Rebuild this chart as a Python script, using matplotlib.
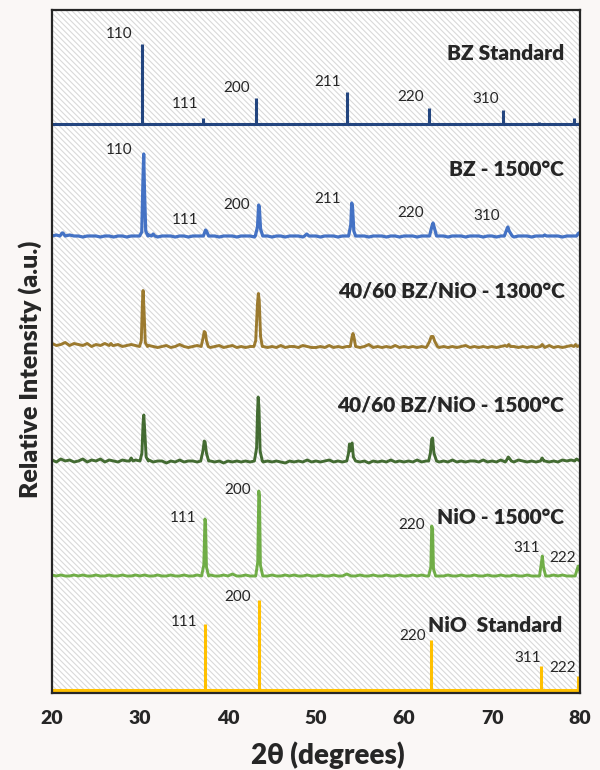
import numpy as np
import matplotlib
matplotlib.use("Agg")
import matplotlib.pyplot as plt
from matplotlib.patches import Rectangle

plt.rcParams['font.family'] = ['Lato', 'Open Sans', 'DejaVu Sans']
plt.rcParams['hatch.linewidth'] = 0.8

# 2-theta grid for the measured backgrounds (0.5 deg step)
GRID = np.round(np.arange(20.0, 80.01, 0.5), 2)

# ---- BZ standard (stick pattern)
bz_std_pos = [21.25, 30.2, 37.2, 43.2, 53.55, 62.8, 71.2, 75.3, 79.3]
bz_std_int = [1.5, 80, 6, 26, 32, 16, 14, 2, 6]

# ---- NiO standard (stick pattern)
nio_std_pos = [37.4, 43.5, 63.1, 75.6, 79.75]
nio_std_int = [66, 90, 50, 24, 14]

bz1500_bg = [1, 2, 1, 1, 2, 1, 1, 0, 1, 1,
             1, 0, 1, 1, 0, 1, 1, 0, 1, 1,
             1, 1, 2, 1, 0, 1, 1, 1, 0, 1,
             1, 0, 1, 1, 1, 0, 1, 1, 0, 1,
             1, 1, 0, 1, 1, 1, 0, 1, 1, 1,
             0, 1, 1, 0, 1, 1, 1, 0, 1, 1,
             1, 0, 1, 1, 1, 0, 1, 1, 1, 0,
             1, 1, 0, 1, 1, 1, 0, 1, 1, 0,
             1, 1, 1, 0, 1, 1, 1, 0, 1, 1,
             0, 1, 1, 1, 0, 1, 1, 1, 0, 1,
             1, 0, 1, 1, 1, 0, 1, 1, 1, 0,
             1, 1, 0, 1, 1, 1, 0, 1, 1, 1,
             1]
bz1500_peaks = [
    ([20.9, 21.15, 21.25, 21.5], [1, 4, 4, 1]),
    ([29.95, 30.2, 30.33, 30.42, 30.5, 30.65, 30.9], [1, 5, 55, 83, 50, 6, 1]),
    ([31.3, 31.5, 31.7], [1, 3, 1]),
    ([37.2, 37.45, 37.55, 37.8], [1, 7, 6, 1]),
    ([43.1, 43.35, 43.48, 43.56, 43.7, 43.95], [1, 10, 32, 30, 8, 1]),
    ([48.7, 48.95, 49.2], [1, 3, 1]),
    ([53.7, 53.95, 54.06, 54.15, 54.3, 54.5], [1, 12, 34, 30, 6, 1]),
    ([62.9, 63.15, 63.3, 63.45, 63.7], [1, 10, 14, 9, 1]),
    ([71.4, 71.7, 71.8, 71.95, 72.3], [1, 8, 10, 6, 1]),
    ([75.8, 76.0, 76.2], [1, 2, 1]),
    ([79.6, 79.85, 80.0], [1, 4, 4]),
]

bzn1300_bg = [5, 3, 4, 6, 3, 5, 4, 3, 5, 2,
              4, 3, 5, 6, 3, 4, 2, 3, 4, 3,
              2, 1, 3, 2, 1, 2, 3, 1, 2, 4,
              2, 1, 2, 3, 1, 2, 1, 2, 3, 1,
              2, 3, 1, 2, 1, 2, 1, 3, 2, 1,
              2, 1, 3, 1, 2, 2, 1, 3, 2, 1,
              1, 2, 1, 3, 1, 2, 1, 2, 1, 2,
              1, 2, 4, 1, 2, 1, 2, 1, 3, 1,
              2, 1, 2, 1, 2, 1, 2, 1, 1, 2,
              1, 2, 1, 2, 3, 1, 2, 1, 2, 1,
              2, 1, 2, 3, 1, 2, 1, 2, 1, 2,
              1, 2, 1, 3, 1, 2, 1, 2, 3, 4,
              3]
bzn1300_peaks = [
    ([26.5, 26.7, 26.9], [3, 5, 3]),
    ([29.95, 30.15, 30.27, 30.35, 30.45, 30.6, 30.85], [2, 8, 45, 58, 40, 6, 2]),
    ([36.95, 37.15, 37.3, 37.42, 37.55, 37.75], [2, 10, 17, 16, 8, 2]),
    ([42.95, 43.15, 43.25, 43.35, 43.45, 43.55, 43.7, 43.9], [2, 8, 26, 45, 55, 48, 12, 2]),
    ([53.9, 54.1, 54.2, 54.3, 54.5], [2, 12, 15, 12, 2]),
    ([62.6, 62.9, 63.1, 63.3, 63.5, 63.8], [2, 7, 12, 12, 7, 2]),
    ([71.7, 71.9, 72.1], [2, 4, 2]),
    ([75.5, 75.7, 75.9], [2, 4, 2]),
    ([79.3, 79.5, 79.7], [2, 4, 2]),
]

bzn1500_bg = [3, 1, 4, 2, 3, 1, 2, 4, 1, 3,
              2, 4, 1, 3, 2, 1, 3, 2, 4, 3,
              2, 1, 3, 1, 2, 2, 0, 2, 1, 3,
              1, 2, 2, 1, 3, 1, 2, 1, 2, 0,
              2, 1, 2, 1, 2, 1, 2, 0, 1, 2,
              1, 2, 1, 0, 2, 1, 2, 1, 3, 1,
              2, 1, 2, 3, 1, 2, 1, 2, 1, 3,
              1, 2, 0, 2, 1, 2, 1, 3, 1, 2,
              1, 2, 1, 3, 1, 2, 1, 2, 1, 2,
              1, 3, 1, 2, 1, 2, 2, 1, 3, 1,
              2, 1, 3, 1, 2, 1, 3, 2, 1, 2,
              1, 3, 2, 1, 2, 1, 3, 2, 3, 4,
              2]
bzn1500_peaks = [
    ([28.8, 29.0, 29.2], [2, 5, 2]),
    ([30.0, 30.22, 30.35, 30.43, 30.52, 30.7, 30.95], [2, 10, 40, 48, 35, 6, 2]),
    ([36.9, 37.15, 37.3, 37.4, 37.55, 37.8], [2, 12, 22, 21, 10, 2]),
    ([43.0, 43.25, 43.35, 43.43, 43.52, 43.65, 43.9], [2, 15, 50, 66, 55, 12, 2]),
    ([53.5, 53.7, 53.8, 53.9, 54.0, 54.1, 54.25, 54.5], [2, 10, 19, 12, 18, 20, 6, 2]),
    ([62.8, 63.0, 63.15, 63.25, 63.4, 63.7], [2, 10, 24, 25, 10, 2]),
    ([71.6, 71.85, 71.95, 72.2], [2, 6, 5, 2]),
    ([75.5, 75.7, 75.9], [2, 5, 2]),
    ([79.4, 79.6, 79.8], [2, 4, 3]),
]

nio1500_bg = [2, 1, 2, 1, 1, 2, 1, 2, 1, 1,
              2, 1, 1, 2, 1, 1, 2, 1, 1, 2,
              1, 2, 1, 1, 2, 1, 1, 2, 1, 1,
              2, 1, 1, 2, 1, 1, 2, 1, 1, 2,
              1, 3, 1, 1, 2, 1, 1, 2, 1, 1,
              2, 1, 1, 2, 1, 2, 1, 1, 2, 1,
              1, 2, 1, 1, 2, 1, 1, 3, 1, 1,
              2, 1, 1, 2, 1, 1, 2, 1, 1, 2,
              1, 1, 2, 1, 2, 1, 1, 2, 1, 1,
              2, 1, 1, 2, 1, 1, 2, 1, 1, 2,
              1, 1, 2, 1, 1, 2, 1, 1, 2, 1,
              1, 2, 1, 1, 2, 1, 2, 1, 1, 2,
              1]
nio1500_peaks = [
    ([37.0, 37.25, 37.38, 37.45, 37.55, 37.8], [1, 12, 58, 55, 10, 1]),
    ([43.15, 43.38, 43.5, 43.58, 43.68, 43.95], [1, 15, 86, 80, 12, 1]),
    ([62.8, 63.05, 63.15, 63.25, 63.35, 63.6], [1, 10, 51, 48, 8, 1]),
    ([75.4, 75.62, 75.72, 75.85, 76.1], [1, 15, 21, 10, 1]),
    ([79.45, 79.68, 79.8, 79.9, 80.0], [1, 8, 11, 9, 5]),
]

# vertical offsets of each pattern in the stack
offsets = {'bzstd': 569, 'bz1500': 456, 'bzn1300': 344.5,
           'bzn1500': 230, 'nio1500': 116, 'niostd': 3}

colors = {'bzstd': '#23457f', 'bz1500': '#4472c4', 'bzn1300': '#9b7a2f',
          'bzn1500': '#436b32', 'nio1500': '#70ad47', 'niostd': '#ffc000'}

widths = {'bzstd': 2.2, 'bz1500': 2.3, 'bzn1300': 2.1,
          'bzn1500': 2.1, 'nio1500': 2.1, 'niostd': 2.2}

titles = [('BZ Standard', 78.18, 639), ('BZ - 1500°C', 78.18, 523),
          ('40/60 BZ/NiO - 1300°C', 78.27, 402), ('40/60 BZ/NiO - 1500°C', 78.18, 288),
          ('NiO - 1500°C', 78.18, 176), ('NiO  Standard', 77.95, 67)]

hkl_labels = [
    ('110', 27.68, 659), ('111', 35.09, 589), ('200', 40.95, 605),
    ('211', 51.37, 611), ('220', 60.76, 596), ('310', 69.30, 594),
    ('110', 27.68, 543), ('111', 35.09, 473), ('200', 41.03, 488),
    ('211', 51.37, 494), ('220', 60.76, 480), ('310', 69.35, 477),
    ('111', 34.91, 175), ('200', 41.06, 203), ('220', 60.87, 168),
    ('311', 73.93, 145), ('222', 78.02, 135),
    ('111', 35.03, 71), ('200', 41.13, 96), ('220', 60.93, 57),
    ('311', 74.02, 35), ('222', 78.02, 25),
]

xticks = [20, 30, 40, 50, 60, 70, 80]


def build(bg, peaks):
    pts = list(zip(GRID, bg))
    for xs, ys in peaks:
        pts = [p for p in pts if p[0] < xs[0] or p[0] > xs[-1]]
        pts += list(zip(xs, ys))
    pts.sort()
    return np.array([p[0] for p in pts]), np.array([p[1] for p in pts], dtype=float)


fig = plt.figure(figsize=(6.0, 7.7), dpi=100, facecolor='#faf7f6')
ax = fig.add_axes([52 / 600, 77 / 770, 528 / 600, 683 / 770])
ax.set_xlim(20, 80)
ax.set_ylim(0, 683)

# hatched background
ax.add_patch(Rectangle((0, 0), 1, 1, transform=ax.transAxes, facecolor='white',
                       edgecolor='#d9d9d9', hatch='\\' * 6, lw=0, zorder=0))

# stick patterns
for key, pos, inten in [('bzstd', bz_std_pos, bz_std_int), ('niostd', nio_std_pos, nio_std_int)]:
    off = offsets[key]
    ax.plot([20, 80], [off, off], color=colors[key], lw=widths[key], solid_capstyle='butt', zorder=3)
    ax.vlines(pos, off, np.array(inten) + off, color=colors[key], lw=widths[key], zorder=3)

# measured patterns
for key, bg, peaks in [('bz1500', bz1500_bg, bz1500_peaks), ('bzn1300', bzn1300_bg, bzn1300_peaks),
                       ('bzn1500', bzn1500_bg, bzn1500_peaks), ('nio1500', nio1500_bg, nio1500_peaks)]:
    x, y = build(bg, peaks)
    ax.plot(x, y + offsets[key], color=colors[key], lw=widths[key], solid_joinstyle='round', zorder=3)

for t, x, y in titles:
    ax.text(x, y, t, ha='right', va='center', fontsize=15, fontweight='heavy', color='#262626', zorder=4)
for t, x, y in hkl_labels:
    ax.text(x, y, t, ha='center', va='center', fontsize=11, color='#262626', zorder=4)

ax.set_yticks([])
ax.set_xticks(xticks, [str(v) for v in xticks], fontsize=14, fontweight='heavy', color='#262626')
ax.tick_params(axis='x', length=0, pad=12)
for s in ax.spines.values():
    s.set_linewidth(1.6)
    s.set_color('#262626')
    s.set_zorder(5)

fig.text(30 / 600, 1 - 369 / 770, 'Relative Intensity (a.u.)', rotation=90, ha='center', va='center',
         fontsize=18, fontweight='heavy', color='#262626')
fig.text(328 / 600, 1 - 755 / 770, '2θ (degrees)', ha='center', va='center',
         fontsize=20, fontweight='heavy', color='#262626')

fig.savefig('out.png', dpi=100, facecolor=fig.get_facecolor())
